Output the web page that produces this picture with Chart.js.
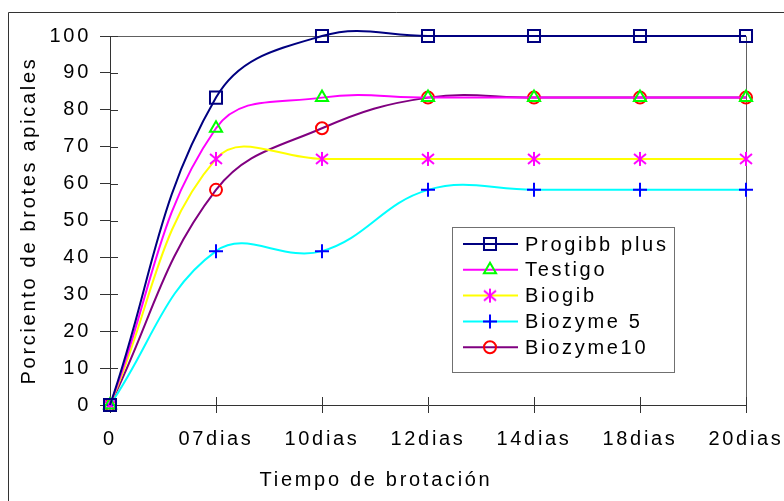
<!DOCTYPE html>
<html>
<head>
<meta charset="utf-8">
<script src="https://cdn.jsdelivr.net/npm/chart.js@4/dist/chart.umd.min.js"></script>
<style>
  html, body { margin: 0; padding: 0; background: #fff; }
  canvas { display: block; }
</style>
</head>
<body>
<canvas id="grafico" width="784" height="501"></canvas>
<script>
// Datos
const dias = ['0', '07dias', '10dias', '12dias', '14dias', '18dias', '20dias'];
const progibbPlus = [0, 83.3, 100, 100, 100, 100, 100];
const testigo = [0, 75, 83.3, 83.3, 83.3, 83.3, 83.3];
const biogib = [0, 66.7, 66.7, 66.7, 66.7, 66.7, 66.7];
const biozyme5 = [0, 41.7, 41.7, 58.3, 58.3, 58.3, 58.3];
const biozyme10 = [0, 58.3, 75, 83.3, 83.3, 83.3, 83.3];
const ticksY = [0, 10, 20, 30, 40, 50, 60, 70, 80, 90, 100];

const fuente = "'Liberation Sans', Arial, sans-serif";
const espaciado = '2.7px';

// Marcador asterisco (X con linea vertical) como en Excel
function asterisco(color) {
    const c = document.createElement('canvas');
    c.width = 16; c.height = 16;
    const g = c.getContext('2d');
    g.strokeStyle = color;
    g.lineWidth = 2;
    g.beginPath();
    g.moveTo(8, 1); g.lineTo(8, 15);
    g.moveTo(2, 3); g.lineTo(14, 13);
    g.moveTo(14, 3); g.lineTo(2, 13);
    g.stroke();
    return c;
}

const series = [
    { label: 'Progibb plus', data: progibbPlus, linea: '#000080', marca: '#000080', estilo: 'rect', radio: 8.5 },
    { label: 'Testigo', data: testigo, linea: '#FF00FF', marca: '#00FF00', estilo: 'triangle', radio: 7 },
    { label: 'Biogib', data: biogib, linea: '#FFFF00', marca: '#FF00FF', estilo: asterisco('#FF00FF'), radio: 8 },
    { label: 'Biozyme 5', data: biozyme5, linea: '#00FFFF', marca: '#0000FF', estilo: 'cross', radio: 7 },
    { label: 'Biozyme10', data: biozyme10, linea: '#800080', marca: '#FF0000', estilo: 'circle', radio: 6 }
];

// Espaciado de letras en el contexto (el canvas se reinicia al dimensionar)
const letras = {
    id: 'letras',
    beforeLayout(chart) { chart.ctx.letterSpacing = espaciado; },
    beforeDraw(chart) {
        const ctx = chart.ctx;
        ctx.letterSpacing = espaciado;
        // marco exterior
        ctx.save();
        ctx.strokeStyle = '#333';
        ctx.lineWidth = 1;
        ctx.beginPath();
        ctx.moveTo(8.5, 502);
        ctx.lineTo(8.5, 12.5);
        ctx.lineTo(784, 12.5);
        ctx.stroke();
        ctx.restore();
    }
};

// Borde superior/derecho del area y marcas que cruzan los ejes
const marco = {
    id: 'marco',
    beforeDatasetsDraw(chart) {
        const ctx = chart.ctx;
        const a = chart.chartArea;
        const x = chart.scales.x, y = chart.scales.y;
        ctx.save();
        ctx.strokeStyle = '#606060';
        ctx.lineWidth = 1;
        ctx.beginPath();
        ctx.moveTo(a.left, a.top + 0.5);
        ctx.lineTo(a.right + 0.5, a.top + 0.5);
        ctx.lineTo(a.right + 0.5, a.bottom);
        ctx.stroke();
        ctx.strokeStyle = '#333';
        ctx.beginPath();
        y.ticks.forEach((t, i) => {
            const py = Math.round(y.getPixelForTick(i)) + 0.5;
            ctx.moveTo(a.left, py); ctx.lineTo(a.left + 8, py);
        });
        x.ticks.forEach((t, i) => {
            if (i === 0) return;
            const px = Math.round(x.getPixelForTick(i)) + 0.5;
            ctx.moveTo(px, a.bottom); ctx.lineTo(px, a.bottom - 8);
        });
        ctx.stroke();
        ctx.restore();
    }
};

// Leyenda dentro del area de trazado
const leyenda = {
    id: 'leyenda',
    afterDraw(chart) {
        const ctx = chart.ctx;
        const bx = 452.5, by = 227.5, bw = 222, bh = 145;
        ctx.save();
        ctx.fillStyle = '#fff';
        ctx.fillRect(bx, by, bw, bh);
        ctx.strokeStyle = '#707070';
        ctx.lineWidth = 1;
        ctx.strokeRect(bx, by, bw, bh);
        ctx.font = '20px ' + fuente;
        ctx.textBaseline = 'middle';
        chart.data.datasets.forEach((ds, i) => {
            const yy = 244 + i * 25.8;
            ctx.strokeStyle = ds.borderColor;
            ctx.lineWidth = 2;
            ctx.beginPath();
            ctx.moveTo(463, yy); ctx.lineTo(518, yy);
            ctx.stroke();
            ctx.lineWidth = 2;
            ctx.strokeStyle = ds.pointBorderColor;
            ctx.fillStyle = 'rgba(0,0,0,0)';
            Chart.helpers.drawPoint(ctx, {
                pointStyle: ds.pointStyle, rotation: 0,
                radius: ds.pointRadius, borderWidth: 2
            }, 490, yy);
            ctx.fillStyle = '#000';
            ctx.fillText(ds.label, 525, yy + 1);
        });
        ctx.restore();
    }
};

new Chart(document.getElementById('grafico'), {
    type: 'line',
    data: {
        labels: dias,
        datasets: series.map(s => ({
            label: s.label,
            data: s.data,
            borderColor: s.linea,
            borderWidth: 2,
            tension: 0.4,
            clip: false,
            pointStyle: s.estilo,
            pointRadius: s.radio,
            pointBorderColor: s.marca,
            pointBackgroundColor: 'rgba(0,0,0,0)',
            pointBorderWidth: 2
        }))
    },
    options: {
        responsive: false,
        animation: false,
        layout: { padding: { left: 6, right: 38, top: 36, bottom: 0 } },
        elements: { line: { capBezierPoints: false } },
        plugins: {
            legend: { display: false },
            tooltip: { enabled: false },
            title: {
                display: true,
                position: 'bottom',
                text: 'Tiempo de brotación',
                color: '#000',
                font: { family: fuente, size: 20, weight: 'normal' },
                padding: { top: 0, bottom: 9 }
            }
        },
        scales: {
            x: {
                offset: false,
                grid: { drawOnChartArea: false, tickLength: 8, color: '#333', offset: false },
                border: { color: '#333', width: 1 },
                ticks: { color: '#000', font: { family: fuente, size: 20 }, padding: 14, maxRotation: 0, autoSkip: false },
                afterFit(s) { s.height = 63; s.paddingLeft = 0; s.paddingRight = 0; }
            },
            y: {
                min: 0,
                max: 100,
                afterBuildTicks(s) { s.ticks = ticksY.map(v => ({ value: v })); },
                grid: { drawOnChartArea: false, tickLength: 10, color: '#333' },
                border: { color: '#333', width: 1 },
                ticks: { color: '#000', font: { family: fuente, size: 20 }, padding: 9 },
                title: {
                    display: true,
                    text: 'Porciento de brotes apicales',
                    color: '#000',
                    font: { family: fuente, size: 20 },
                    padding: { top: 11, bottom: 0 }
                },
                afterFit(s) { s.width = 104; s.paddingTop = 0; s.paddingBottom = 0; }
            }
        }
    },
    plugins: [letras, marco, leyenda]
});
</script>
</body>
</html>
